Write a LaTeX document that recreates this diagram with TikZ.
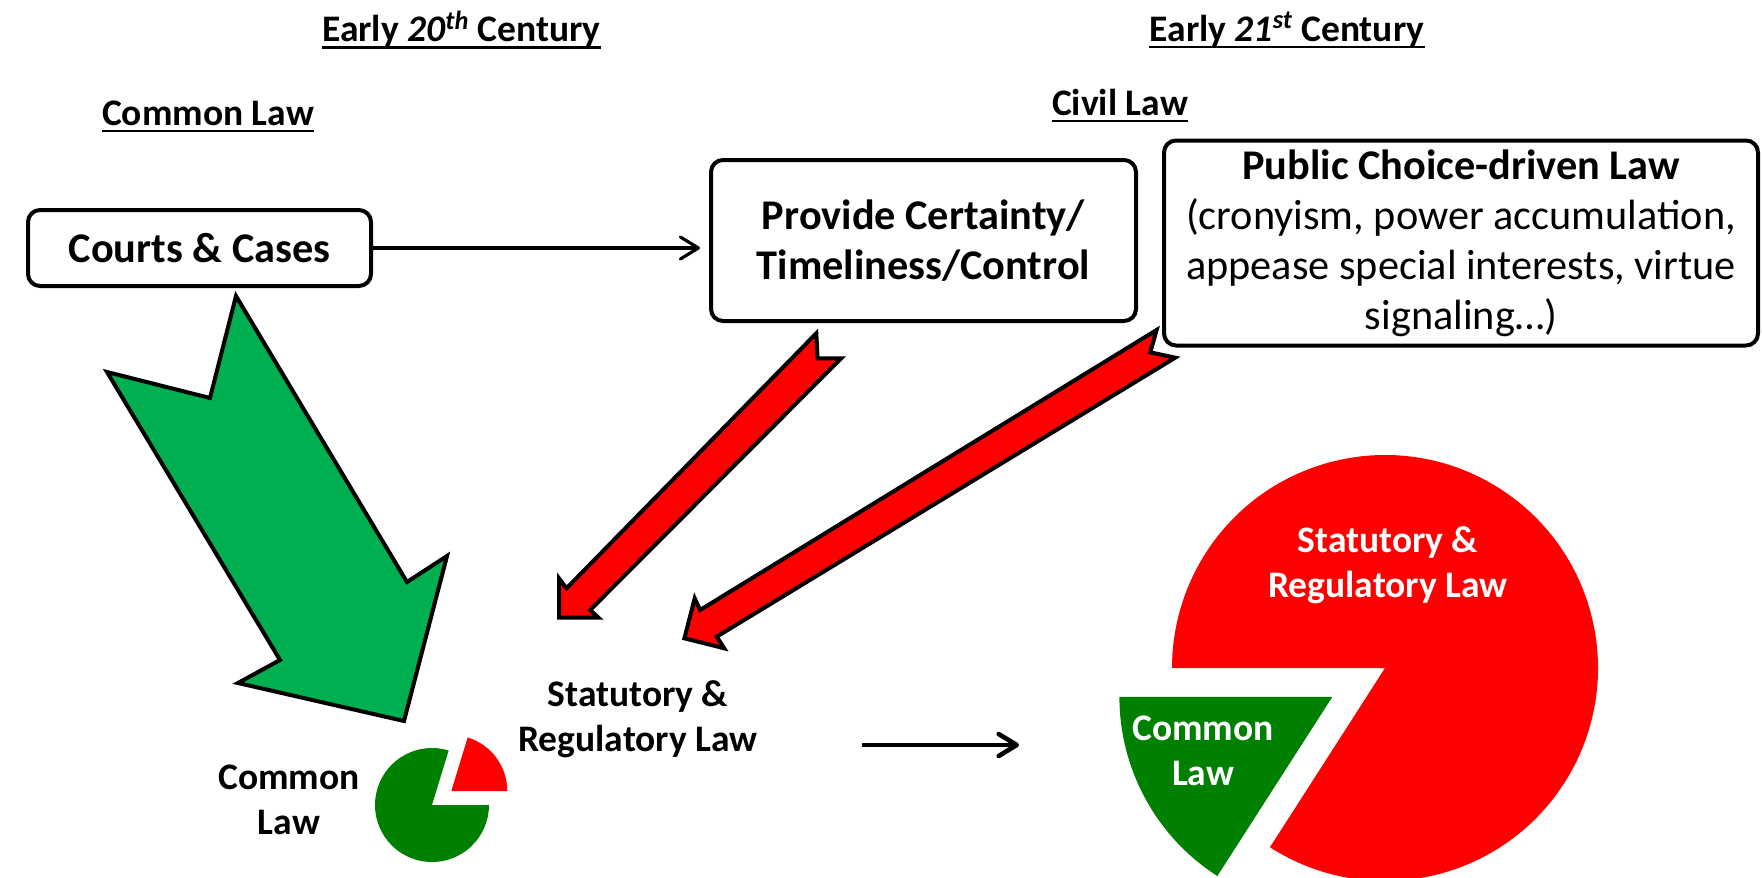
\documentclass[tikz,border=0pt]{standalone}
\usepackage{fontspec}
\setmainfont{Carlito}
\usetikzlibrary{arrows.meta}

\definecolor{arrowgreen}{HTML}{00B050}
\definecolor{piegreen}{HTML}{008000}
\definecolor{lawred}{HTML}{FF0000}

\begin{document}
\begin{tikzpicture}[x=0.5pt, y=-0.5pt,
  box/.style={draw, line width=2pt, rounded corners=6pt, fill=white, align=center,
    inner sep=0pt, font=\fontsize{21.15}{25}\selectfont},
  heading/.style={font=\bfseries\fontsize{18.75}{22.5}\selectfont, inner sep=0pt, anchor=base},
  uline/.style={line width=1.4pt},
  lawlabel/.style={font=\bfseries\fontsize{18.75}{22.5}\selectfont, align=center, inner sep=0pt},
  blockarrow/.style={draw=black, line width=2pt, line join=miter},
  conn/.style={line width=1.6pt,
    -{Straight Barb[length=9pt, width=11pt, line cap=round, line join=round]}}
]
\useasboundingbox (0,0) rectangle (1762,878);
\fill[white] (0,0) rectangle (1762,878);

% headings
\node[heading] (h20) at (461.5,41.7) {Early \textit{20\textsuperscript{th}} Century};
\node[heading] (h21) at (1287,41.5) {Early \textit{21\textsuperscript{st}} Century};
\node[heading] (hcl) at (208,125.5) {Common Law};
\node[heading] (hcv) at (1120,115.5) {Civil Law};
\foreach \n in {h20,h21,hcl,hcv}
  \draw[uline] ([yshift=-2.75pt]\n.base west) -- ([yshift=-2.75pt]\n.base east);

% block arrows
\filldraw[blockarrow, fill=arrowgreen]
  (236,296) -- (210,398) -- (107,372) -- (280,660) -- (238,683)
  -- (404,721) -- (447,556) -- (407,582) -- cycle;
\filldraw[blockarrow, fill=lawred]
  (816.3,333.3) -- (817.6,358.3) -- (841.2,358.3) -- (590.2,610) -- (598.5,617.7)
  -- (559,617.7) -- (559,578.3) -- (566.5,588.3) -- cycle;
\filldraw[blockarrow, fill=lawred]
  (1156.6,330) -- (1150.3,352.3) -- (1175.2,357.7) -- (716.7,636.7) -- (724.2,648.3)
  -- (684.4,638.3) -- (694.7,598.3) -- (700.1,610) -- cycle;

% boxes
\node[box, minimum width=171.5pt, minimum height=38pt] (courts) at (199.5,248)
  {\bfseries Courts \& Cases};
\node[box, minimum width=212.5pt, minimum height=80.5pt] (provide) at (923.5,240.5)
  {\bfseries Provide Certainty/\\\bfseries Timeliness/Control};
\node[box, minimum width=297pt, minimum height=102.5pt] (pcl) at (1461,243)
  {\bfseries Public Choice-driven Law\\(cronyism, power accumulation,\\appease special interests, virtue\\signaling…)};

\draw[conn, shorten >=4.5pt] (courts.east) -- (courts.east -| provide.west);

% small pie
\coordinate (sp) at (432,805);
\fill[piegreen] (sp) -- ++(-73:57) arc[start angle=-73, end angle=-360, radius=57] -- cycle;
\coordinate (sr) at (451.3,791);
\fill[lawred] (sr) -- ++(0:56) arc[start angle=0, end angle=-73, radius=56] -- cycle;

\node[lawlabel] (clsmall) at (289,800) {Common\\Law};
\node[lawlabel] (stmid) at (638,719) {Statutory \&\\Regulatory Law};

% transition arrow
\coordinate (ta) at (862,745);
\coordinate (tb) at (1019,745);
\draw[conn, line width=2.3pt] (ta) -- (tb);

% large pie
\coordinate (bp) at (1385,668);
\fill[lawred] (bp) -- ++(122.7:213) arc[start angle=122.7, end angle=-180, radius=213] -- cycle;
\coordinate (bg) at (1332.4,696.8);
\fill[piegreen] (bg) -- ++(180:213) arc[start angle=180, end angle=122.7, radius=213] -- cycle;

\node[lawlabel, text=white] (stbig) at (1388,565) {Statutory \&\\Regulatory Law};
\node[lawlabel, text=white] (clbig) at (1203,751) {Common\\Law};
\end{tikzpicture}
\end{document}
